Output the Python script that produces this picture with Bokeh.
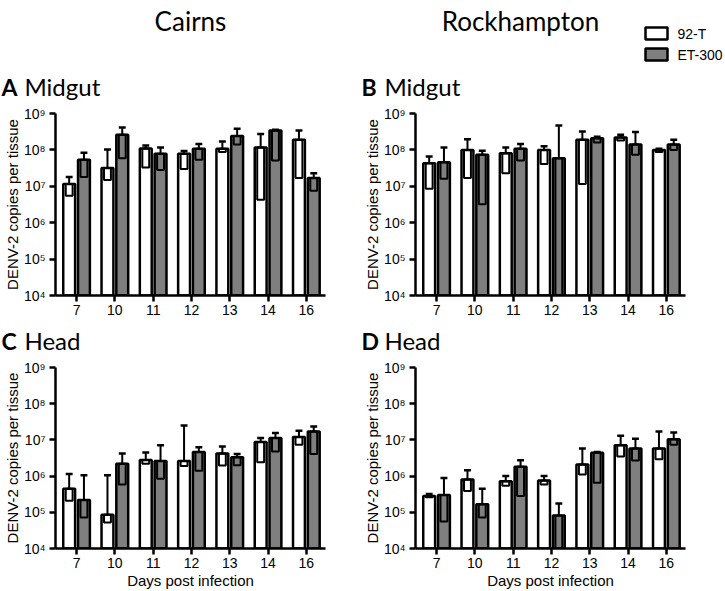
import numpy as np
from bokeh.plotting import figure
from bokeh.models import Range1d, FixedTicker, Label
from bokeh.models import ColumnDataSource
from bokeh.layouts import column, row
from bokeh.embed import file_html
from bokeh.resources import INLINE

# ---------------- data ----------------
days = ["7", "10", "11", "12", "13", "14", "16"]
strains = ["92-T", "ET-300"]
y_ticks = [1e4, 1e5, 1e6, 1e7, 1e8, 1e9]
y_tick_labels = ["10\u2074", "10\u2075", "10\u2076", "10\u2077", "10\u2078", "10\u2079"]

# A: Cairns midgut
A_92T = [1.15e7, 3.2e7, 1.1e8, 7.8e7, 1.07e8, 1.17e8, 1.9e8]
A_92T_hi = [1.8e7, 1.02e8, 1.32e8, 9.3e7, 1.7e8, 2.75e8, 3.4e8]
A_92T_lo = [5.5e6, 1.5e7, 3.3e7, 3.0e7, 8.7e7, 4.3e6, 1.7e7]
A_ET = [5.4e7, 2.6e8, 7.8e7, 1.07e8, 2.4e8, 3.4e8, 1.7e7]
A_ET_hi = [8.3e7, 4.1e8, 1.17e8, 1.46e8, 3.8e8, 3.6e8, 2.3e7]
A_ET_lo = [1.8e7, 5.9e7, 2.8e7, 5.4e7, 1.4e8, 5.1e7, 7.6e6]

# B: Rockhampton midgut
B_92T = [4.3e7, 1.0e8, 8.1e7, 1.0e8, 1.9e8, 2.2e8, 1.0e8]
B_92T_hi = [6.6e7, 1.95e8, 1.17e8, 1.26e8, 3.2e8, 2.6e8, 1.07e8]
B_92T_lo = [8.5e6, 1.7e7, 2.3e7, 4.1e7, 1.15e7, 1.8e8, 8.7e7]
B_ET = [4.6e7, 7.4e7, 1.07e8, 5.9e7, 2.1e8, 1.4e8, 1.4e8]
B_ET_hi = [1.17e8, 9.5e7, 1.46e8, 4.7e8, 2.3e8, 3.1e8, 1.9e8]
B_ET_lo = [1.6e7, 3.2e6, 5.1e7, 1e4, 1.6e8, 7.4e7, 1.0e8]

# C: Cairns head
C_92T = [4.5e5, 8.5e4, 2.8e6, 2.6e6, 4.2e6, 8.7e6, 1.2e7]
C_92T_hi = [1.15e6, 1.05e6, 4.5e6, 2.5e7, 6.6e6, 1.12e7, 1.8e7]
C_92T_lo = [2.1e5, 5.2e4, 2.2e6, 1.9e6, 1.95e6, 2.4e6, 7.4e6]
C_ET = [2.2e5, 2.2e6, 2.6e6, 4.6e6, 3.3e6, 1.12e7, 1.7e7]
C_ET_hi = [1.05e6, 4.2e6, 7.1e6, 6.3e6, 4.1e6, 1.55e7, 2.35e7]
C_ET_lo = [7.2e4, 5.9e5, 8.5e5, 1.4e6, 2.0e6, 4.8e6, 4.1e6]

# D: Rockhampton head
D_92T = [2.8e5, 8.1e5, 7.2e5, 7.6e5, 2.1e6, 7.1e6, 5.8e6]
D_92T_hi = [3.2e5, 1.45e6, 1.0e6, 1.0e6, 5.8e6, 1.3e7, 1.7e7]
D_92T_lo = [2.6e5, 3.9e5, 5.4e5, 5.9e5, 1.1e6, 3.5e6, 2.9e6]
D_ET = [3.0e5, 1.66e5, 1.8e6, 8.1e4, 4.4e6, 5.8e6, 1.05e7]
D_ET_hi = [8.9e5, 4.5e5, 2.75e6, 1.74e5, 4.6e6, 1.07e7, 1.6e7]
D_ET_lo = [5.6e4, 7.2e4, 2.8e5, 1e4, 6.6e5, 2.7e6, 7.4e6]

site_titles = ["Cairns", "Rockhampton"]
panel_letters = ["A", "B", "C", "D"]
tissues = ["Midgut", "Midgut", "Head", "Head"]
y_label = "DENV-2 copies per tissue"
x_label = "Days post infection"

GREY = "#7f7f7f"
ARIAL = "Liberation Sans"
CAL = "Lato"
W = 725


def text_fig(width, height):
    """A blank figure whose frame fills the canvas; data coords = pixels from its top-left."""
    p = figure(width=width, height=height, x_range=Range1d(0, width), y_range=Range1d(height, 0),
               output_backend="svg", toolbar_location=None,
               min_border_left=0, min_border_right=0, min_border_top=0, min_border_bottom=0,
               x_axis_location=None, y_axis_location=None)
    p.grid.visible = False
    p.outline_line_color = None
    return p


def put(p, x, y, text, size, font=CAL, style="normal", align="left"):
    p.add_layout(Label(x=x, y=y, text=text, text_font=font, text_font_size=f"{size}px",
                       text_font_style=style, text_align=align, text_baseline="middle",
                       text_color="black"))


def make_panel(width, height, bl, br, bt, bb, s1, s1_hi, s1_lo, s2, s2_hi, s2_lo, xlab=None):
    p = figure(width=width, height=height, x_range=Range1d(-0.55, 6.5), y_range=Range1d(1e4, 1e9),
               y_axis_type="log", output_backend="svg", toolbar_location=None,
               min_border_left=bl, min_border_right=br, min_border_top=bt, min_border_bottom=bb)
    p.grid.visible = False
    p.outline_line_color = None

    x = np.arange(len(days))
    bw, off, iw = 0.31, 0.193, 0.18
    for vals, hi, lo, color, o in [(s1, s1_hi, s1_lo, "white", -off), (s2, s2_hi, s2_lo, GREY, off)]:
        xc = x + o
        src = ColumnDataSource(dict(left=xc - bw / 2, right=xc + bw / 2, top=vals,
                                    bottom=[1e4] * len(vals), hi=hi, lo=lo, xc=xc,
                                    il=xc - iw / 2, ir=xc + iw / 2))
        p.quad(left="left", right="right", top="top", bottom="bottom", source=src,
               fill_color=color, line_color="black", line_width=2.5)
        p.segment(x0="xc", y0="top", x1="xc", y1="hi", source=src, line_color="black", line_width=2)
        p.segment(x0="il", y0="hi", x1="ir", y1="hi", source=src, line_color="black", line_width=2.5)
        p.quad(left="il", right="ir", top="top", bottom="lo", source=src,
               fill_color=None, line_color="black", line_width=2)

    for ax in (p.xaxis[0], p.yaxis[0]):
        ax.axis_line_width = 2.5
        ax.axis_line_color = "black"
        ax.major_tick_line_width = 2.5
        ax.major_tick_line_color = "black"
        ax.major_tick_out = 6
        ax.major_tick_in = 0
        ax.minor_tick_out = 0
        ax.minor_tick_in = 0
        ax.major_label_text_font = ARIAL
        ax.major_label_text_color = "black"
        ax.major_label_text_font_size = "14px"
        ax.axis_label_text_font = ARIAL
        ax.axis_label_text_font_size = "15px"
        ax.axis_label_text_font_style = "normal"
        ax.axis_label_text_color = "black"
    p.xaxis.ticker = FixedTicker(ticks=list(range(len(days))))
    p.xaxis.major_label_overrides = {i: d for i, d in enumerate(days)}
    p.xaxis.major_label_standoff = 3
    p.yaxis.ticker = FixedTicker(ticks=y_ticks, minor_ticks=[])
    p.yaxis.major_label_overrides = {int(t): l for t, l in zip(y_ticks, y_tick_labels)}
    p.yaxis.major_label_standoff = 4
    p.yaxis.axis_label = y_label
    p.yaxis.axis_label_standoff = 0
    if xlab:
        p.xaxis.axis_label = xlab
        p.xaxis.axis_label_standoff = 1
    return p


# header: column titles, legend, panel letters A/B
HEAD_H = 104
head = text_fig(W, HEAD_H)
put(head, 190, 20, site_titles[0], 26, align="center")
put(head, 520, 20, site_titles[1], 26, align="center")
for key, x0 in [("A", 1), ("B", 361)]:
    put(head, x0, 86, key, 23, style="bold")
    put(head, x0 + 23, 86, tissues[panel_letters.index(key)], 24)
# legend swatches and labels
leg_y = [33, 54]
head.quad(left=[645, 645], right=[667, 667], top=[y - 6 for y in leg_y], bottom=[y + 6 for y in leg_y],
          fill_color=["white", GREY], line_color="black", line_width=2.5)
for s, y in zip(strains, leg_y):
    put(head, 677, y, s, 14, font=ARIAL)

# middle header: panel letters C/D
mid = text_fig(W, 36)
for key, x0 in [("C", 1), ("D", 361)]:
    put(mid, x0, 18, key, 23, style="bold")
    put(mid, x0 + 23, 18, tissues[panel_letters.index(key)], 24)

TOP_H = 322 - HEAD_H
pA = make_panel(360, TOP_H, 51, 35, 113 - HEAD_H, 27, A_92T, A_92T_hi, A_92T_lo, A_ET, A_ET_hi, A_ET_lo)
pB = make_panel(365, TOP_H, 51, 40, 113 - HEAD_H, 27, B_92T, B_92T_hi, B_92T_lo, B_ET, B_ET_hi, B_ET_lo)
pC = make_panel(360, 233, 51, 35, 9, 43, C_92T, C_92T_hi, C_92T_lo, C_ET, C_ET_hi, C_ET_lo, xlab=x_label)
pD = make_panel(365, 233, 51, 40, 9, 43, D_92T, D_92T_hi, D_92T_lo, D_ET, D_ET_hi, D_ET_lo, xlab=x_label)

layout = column(head, row(pA, pB), mid, row(pC, pD))
open("out.html", "w").write(file_html(layout, INLINE))
